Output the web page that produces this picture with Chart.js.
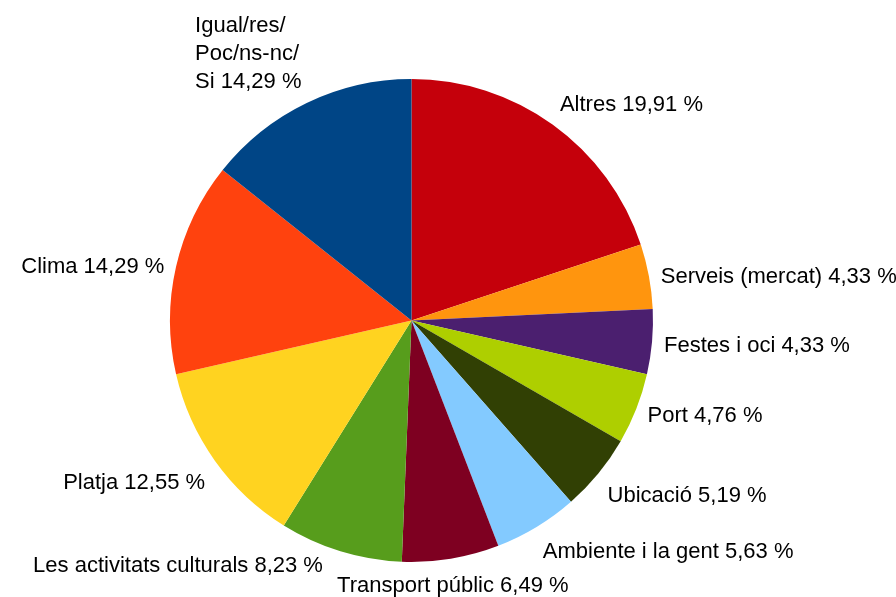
<!DOCTYPE html>
<html>
<head>
<meta charset="utf-8">
<script src="https://cdn.jsdelivr.net/npm/chart.js@4"></script>
<style>
  html, body { margin: 0; padding: 0; background: #fff; }
  #wrap { width: 896px; height: 597px; }
</style>
</head>
<body>
<div id="wrap"><canvas id="myChart" width="896" height="597"></canvas></div>
<script>
// slices, clockwise from 12 o'clock
const categories = [
  'Altres',
  'Serveis (mercat)',
  'Festes i oci',
  'Port',
  'Ubicació',
  'Ambiente i la gent',
  'Transport públic',
  'Les activitats culturals',
  'Platja',
  'Clima',
  ['Igual/res/', 'Poc/ns-nc/', 'Si']
];
const percents = [19.91, 4.33, 4.33, 4.76, 5.19, 5.63, 6.49, 8.23, 12.55, 14.29, 14.29];
const colors = ['#c5000b', '#ff950e', '#4b1f6f', '#aecf00', '#314004', '#83caff',
                '#7e0021', '#579d1c', '#ffd320', '#ff420e', '#004586'];

const FONT = '22px "Liberation Sans", Arial, sans-serif';
const LINE_H = 28;
const GAP = 12;

// LibreOffice-like outside labels: 8 sectors decide which side of the box touches the anchor
function alignFor(deg) {
  if (deg >= 337.5 || deg < 22.5) return [0, -1];   // bottom-center
  if (deg < 67.5) return [1, -1];                     // bottom-left
  if (deg < 112.5) return [1, 0];                     // left-middle
  if (deg < 157.5) return [1, 1];                     // top-left
  if (deg < 202.5) return [0, 1];                     // top-center
  if (deg < 247.5) return [-1, 1];                    // top-right
  if (deg < 292.5) return [-1, 0];                    // right-middle
  return [-1, -1];                                    // bottom-right
}

function boxFor(ax, ay, al, w, h) {
  let x = al[0] === 1 ? ax : al[0] === -1 ? ax - w : ax - w / 2;
  let y = al[1] === 1 ? ay + 5 : al[1] === -1 ? ay - h : ay - h / 2 + 3;
  return { x, y, w, h };
}

function overlaps(a, b) {
  return a.x < b.x + b.w && b.x < a.x + a.w && a.y < b.y + b.h && b.y < a.y + a.h;
}

const pieLabels = {
  id: 'pieLabels',
  afterDraw(chart) {
    const ctx = chart.ctx;
    const meta = chart.getDatasetMeta(0);
    ctx.save();
    ctx.font = FONT;
    ctx.fillStyle = '#000';
    ctx.textBaseline = 'middle';
    ctx.textAlign = 'left';
    const placed = [];
    meta.data.forEach((arc, i) => {
      const p = arc.getProps(['x', 'y', 'startAngle', 'endAngle', 'outerRadius'], true);
      const mid = (p.startAngle + p.endAngle) / 2;
      let deg = (mid * 180 / Math.PI + 90) % 360;
      if (deg < 0) deg += 360;
      const r = p.outerRadius + GAP;
      const ax = p.x + r * Math.cos(mid);
      const ay = p.y + r * Math.sin(mid);

      const lab = chart.data.labels[i];
      const lines = Array.isArray(lab) ? lab.slice() : [lab];
      lines[lines.length - 1] += ' ' + percents[i].toFixed(2).replace('.', ',') + ' %';
      const w = Math.max(...lines.map(l => ctx.measureText(l).width));
      const h = lines.length * LINE_H - 8;

      let al = alignFor(deg);
      let box = boxFor(ax, ay, al, w, h);
      if (placed.some(b => overlaps(b, box))) {
        // move to the horizontal side when it would collide
        al = [Math.cos(mid) >= 0 ? 1 : -1, 0];
        box = boxFor(ax + al[0] * 14, ay, al, w, h);
      }
      placed.push(box);
      lines.forEach((l, k) => {
        ctx.fillText(l, box.x, box.y + (h - (lines.length - 1) * LINE_H) / 2 + k * LINE_H);
      });
    });
    ctx.restore();
  }
};

const data = {
  labels: categories,
  datasets: [{
    data: percents,
    backgroundColor: colors,
    borderWidth: 0
  }]
};

const config = {
  type: 'pie',
  data,
  options: {
    responsive: false,
    animation: false,
    layout: { padding: { top: 79, bottom: 35, left: 170, right: 243 } },
    plugins: {
      legend: { display: false },
      tooltip: { enabled: false }
    }
  },
  plugins: [pieLabels]
};

const myChart = new Chart(document.querySelector('#myChart'), config);
</script>
</body>
</html>
